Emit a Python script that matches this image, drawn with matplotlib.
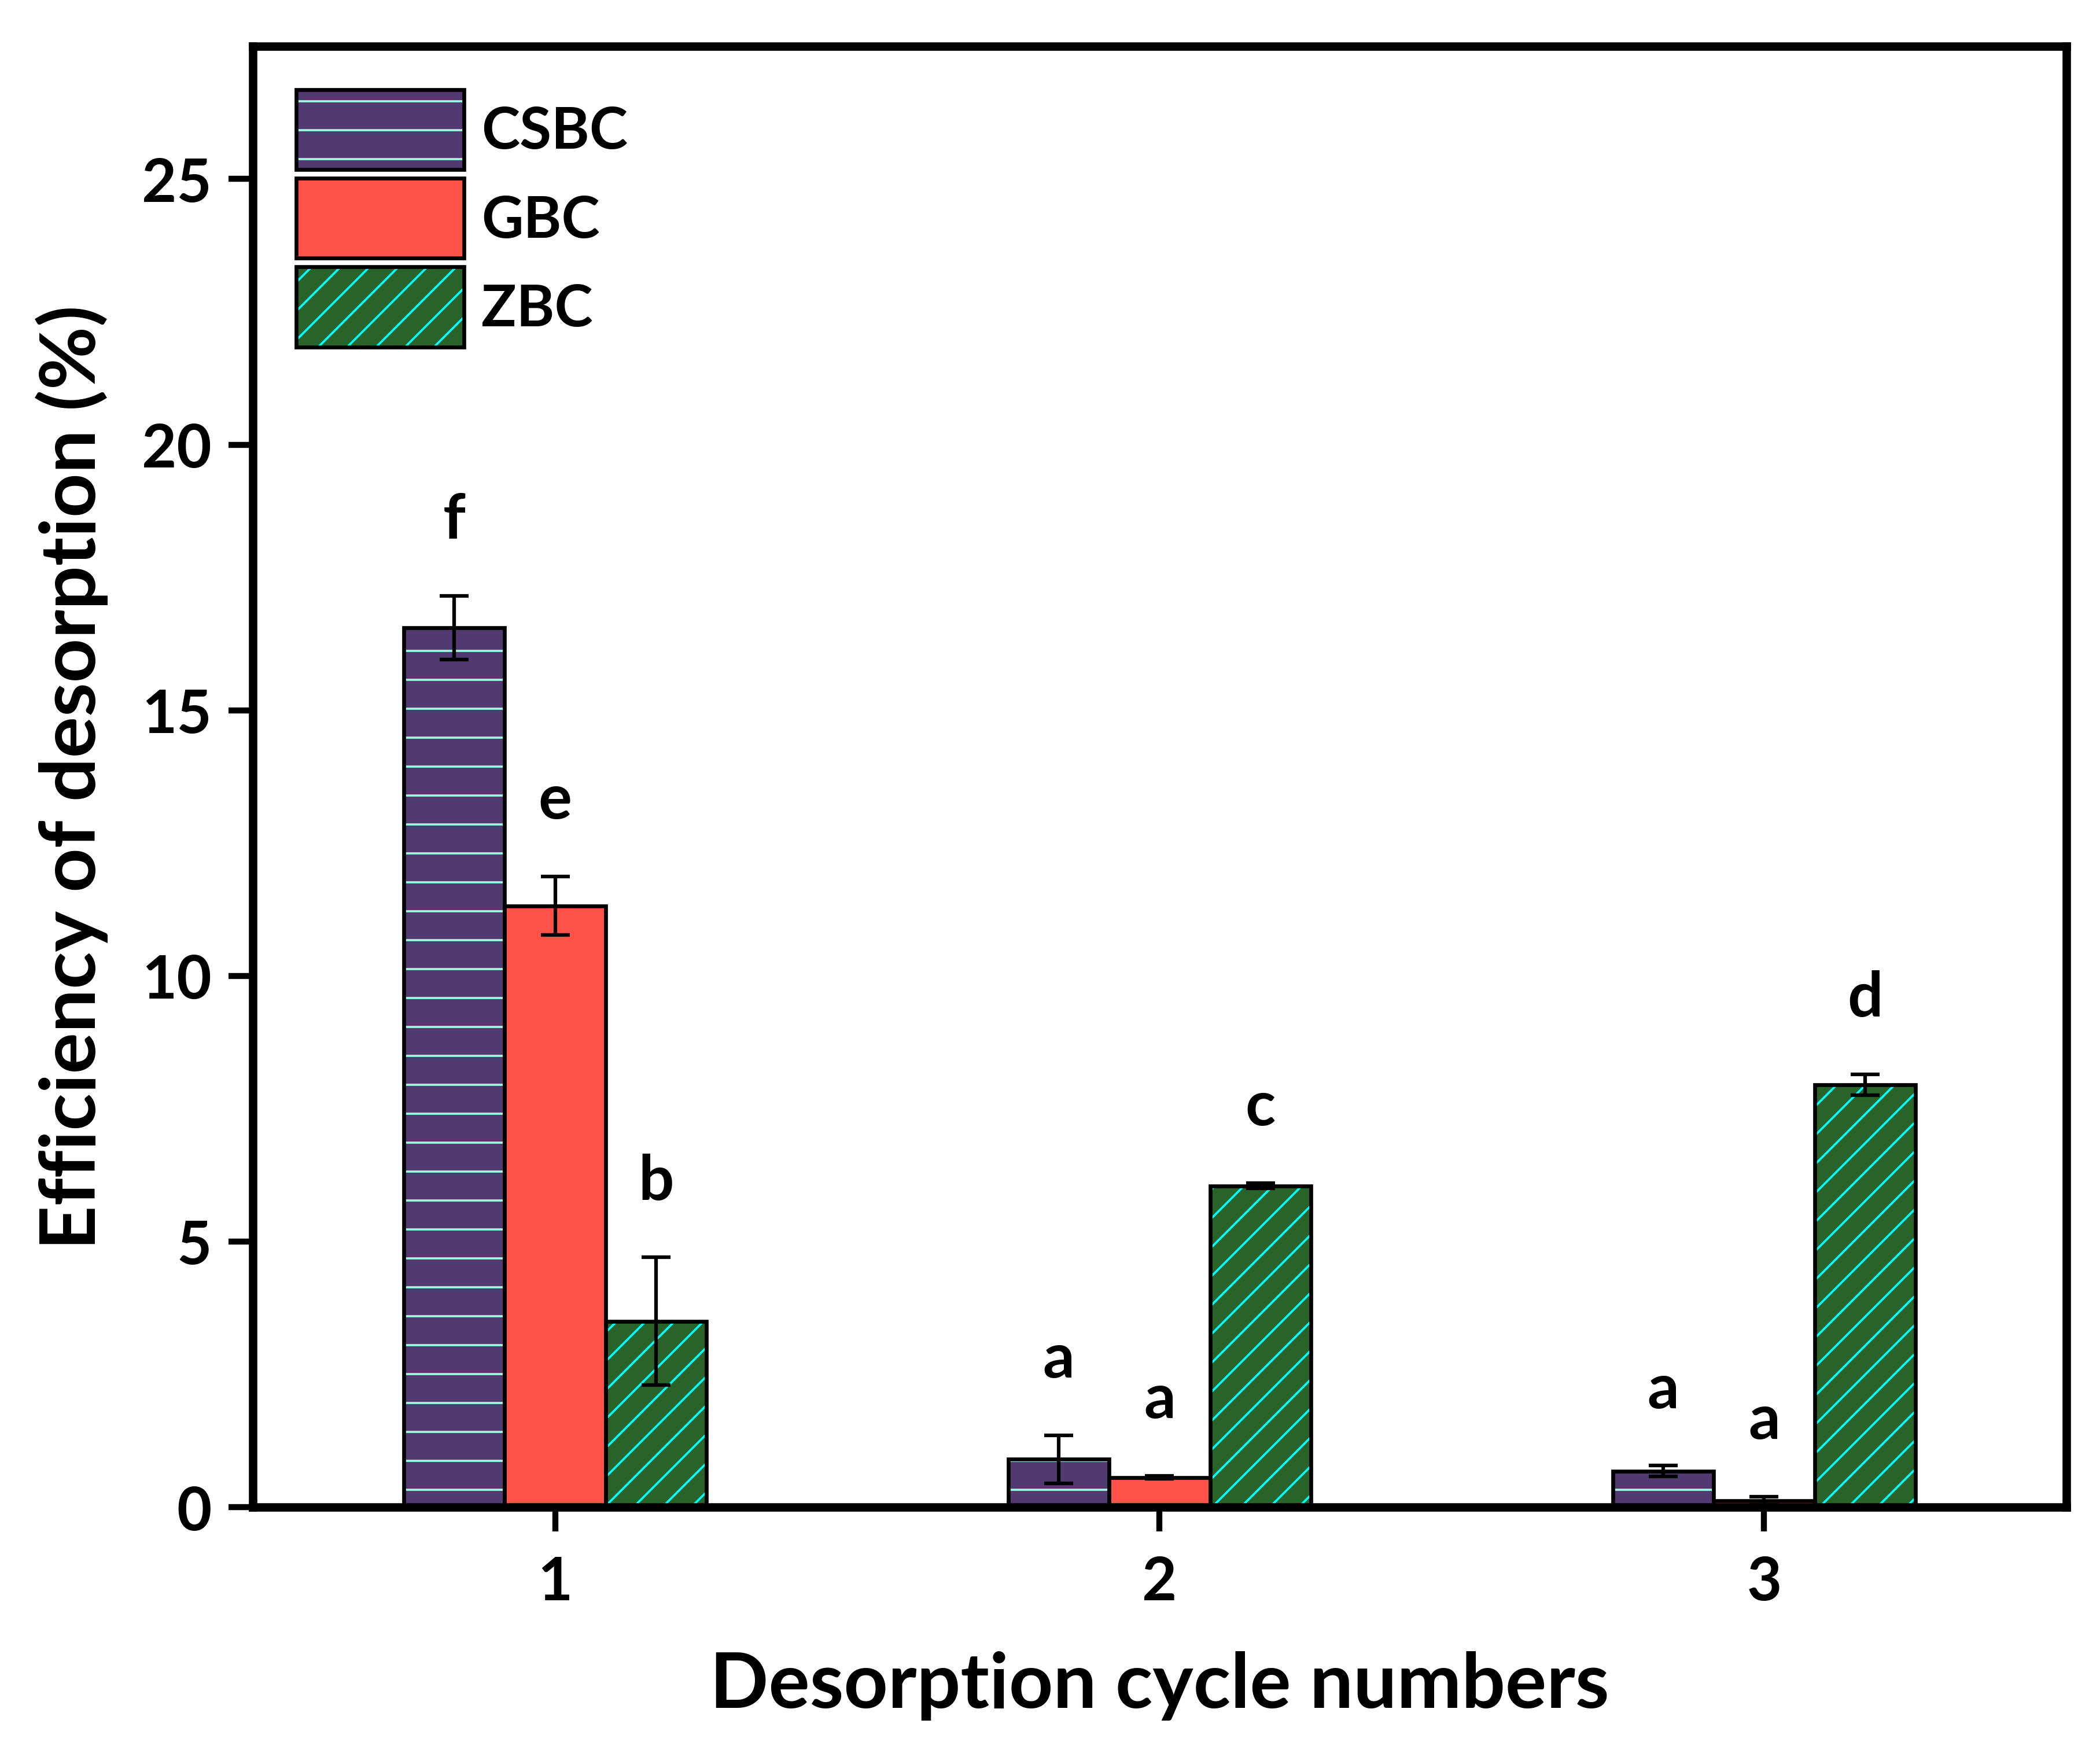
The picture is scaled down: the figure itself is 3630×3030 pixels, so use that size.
"""Desorption efficiency over three desorption cycles for CSBC, GBC and ZBC.
Saves out.png.
"""
import matplotlib; matplotlib.use("Agg")
import matplotlib.pyplot as plt
import numpy as np
from matplotlib.patches import Patch
from matplotlib.legend_handler import HandlerTuple

plt.rcParams.update({
    "font.family": ["Lato", "DejaVu Sans"], "font.weight": "bold",
    "axes.labelweight": "bold", "hatch.linewidth": 0.9,
    "figure.facecolor": "white", "savefig.facecolor": "white",
})

# values (mean, error)
cycles = [1, 2, 3]
series = ["CSBC", "GBC", "ZBC"]
csbc = [16.55, 0.90, 0.68]
csbc_err = [0.60, 0.45, 0.10]
gbc = [11.32, 0.56, 0.12]
gbc_err = [0.55, 0.03, 0.08]
zbc = [3.50, 6.05, 7.95]
zbc_err = [1.20, 0.05, 0.20]
csbc_sig = ["f", "a", "a"]
gbc_sig = ["e", "a", "a"]
zbc_sig = ["b", "c", "d"]

FILL = ["#513A70", "#FF534A", "#2A6329"]
HATCH = ["-", "", "//"]
HCOL = ["#A0F5E0", "#FF534A", "#00FFFF"]
W = 1 / 6

fig = plt.figure(figsize=(12.1, 10.1033), dpi=300)
ax = fig.add_axes([0.1204, 0.1402, 0.8636, 0.8331])

x = np.array(cycles, dtype=float)
handles = []
for i, (vals, errs, sig) in enumerate([(csbc, csbc_err, csbc_sig),
                                       (gbc, gbc_err, gbc_sig),
                                       (zbc, zbc_err, zbc_sig)]):
    xi = x + (i - 1) * W
    ax.bar(xi, vals, W, color=FILL[i], hatch=HATCH[i], edgecolor=HCOL[i], lw=0, zorder=2)
    ax.bar(xi, vals, W, fill=False, edgecolor="black", lw=1.6, zorder=3)
    ax.errorbar(xi, vals, yerr=errs, fmt="none", ecolor="black", elinewidth=1.5,
                capsize=6, capthick=1.5, zorder=4)
    for xx, v, e, s in zip(xi, vals, errs, sig):
        ax.text(xx, v + e + 0.9, s, ha="center", va="bottom", fontsize=26, fontweight="bold")
    handles.append((Patch(facecolor=FILL[i], hatch=HATCH[i], edgecolor=HCOL[i], lw=0),
                    Patch(fill=False, edgecolor="black", lw=1.6)))

ax.set_xlim(0.5, 3.5)
ax.set_ylim(0, 27.5)
ax.set_xticks(cycles)
ax.set_yticks([0, 5, 10, 15, 20, 25])
ax.tick_params(axis="both", direction="out", length=10, width=2.5, labelsize=25, pad=7)
ax.tick_params(axis="x", pad=10)
for lab in ax.get_xticklabels() + ax.get_yticklabels():
    lab.set_fontweight("bold")
for sp in ax.spines.values():
    sp.set_linewidth(3.5)

ax.set_xlabel("Desorption cycle numbers", fontsize=32, fontweight="bold", labelpad=17)
ax.set_ylabel("Efficiency of desorption (%)", fontsize=32, fontweight="bold", labelpad=14)

ax.legend(handles, series, handler_map={tuple: HandlerTuple(ndivide=1, pad=0)},
          loc="upper left", frameon=False, fontsize=24, handlelength=2.9,
          handleheight=1.75, labelspacing=0.15, handletextpad=0.3,
          borderaxespad=0.45, borderpad=0.3)

fig.savefig("out.png", dpi=300)
